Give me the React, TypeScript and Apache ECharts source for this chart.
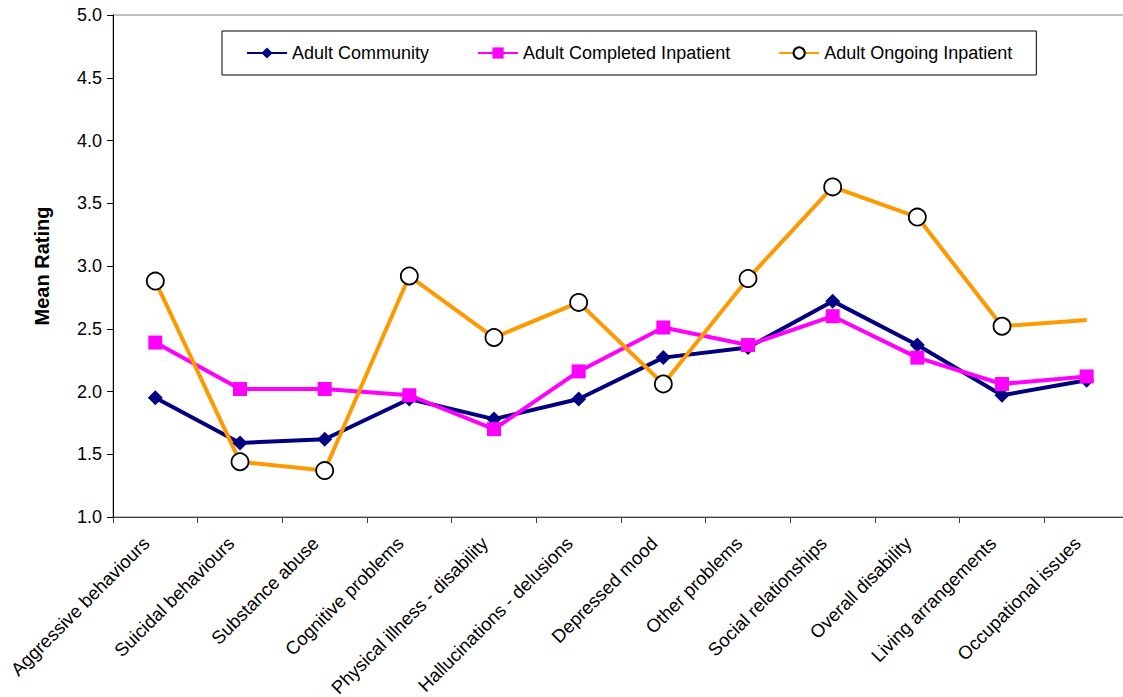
import React, { useEffect, useRef } from "react";
import * as echarts from "echarts";

const categories = [
  "Aggressive behaviours",
  "Suicidal behaviours",
  "Substance abuse",
  "Cognitive problems",
  "Physical illness - disability",
  "Hallucinations - delusions",
  "Depressed mood",
  "Other problems",
  "Social relationships",
  "Overall disability",
  "Living arrangements",
  "Occupational issues",
];

const adultCommunity = [1.95, 1.59, 1.62, 1.94, 1.78, 1.94, 2.27, 2.35, 2.72, 2.37, 1.97, 2.09];
const adultCompleted = [2.39, 2.02, 2.02, 1.97, 1.70, 2.16, 2.51, 2.37, 2.60, 2.27, 2.06, 2.12];
const adultOngoing = [2.88, 1.44, 1.37, 2.92, 2.43, 2.71, 2.06, 2.90, 3.63, 3.39, 2.52, 2.57];
// the last ongoing point has no marker in the reference
const ongoingMarkerShown = [true, true, true, true, true, true, true, true, true, true, true, false];

const seriesNames = ["Adult Community", "Adult Completed Inpatient", "Adult Ongoing Inpatient"];
const yTicks = { min: 1, max: 5, interval: 0.5 };

const FONT = "'Liberation Sans', Arial, sans-serif";

export default function App() {
  const ref = useRef<HTMLDivElement>(null);

  useEffect(() => {
    if (!ref.current) return;
    const chart = echarts.init(ref.current, null, { renderer: "svg" });
    chart.setOption({
      animation: false,
      backgroundColor: "#ffffff",
      textStyle: { fontFamily: FONT },
      grid: {
        left: 113,
        top: 15,
        width: 1016,
        height: 502,
        containLabel: false,
        outerBoundsMode: "none",
        show: true,
        borderColor: "#808080",
        borderWidth: 1,
        backgroundColor: "transparent",
      },
      legend: {
        left: 222,
        top: 31,
        padding: [13, 24, 13, 24],
        itemGap: 48,
        itemWidth: 40,
        itemHeight: 14,
        backgroundColor: "#ffffff",
        borderColor: "#000000",
        borderWidth: 1,
        textStyle: { fontFamily: FONT, fontSize: 18, color: "#000000" },
        data: seriesNames,
      },
      xAxis: {
        type: "category",
        data: categories,
        boundaryGap: true,
        axisLine: { lineStyle: { color: "#404040", width: 1 } },
        axisTick: { show: true, length: 6, alignWithLabel: false, lineStyle: { color: "#404040" } },
        axisLabel: {
          rotate: 45,
          interval: 0,
          margin: 14,
          padding: [0, 13, 0, 0],
          fontFamily: FONT,
          fontSize: 18.5,
          color: "#000000",
        },
        splitLine: { show: false },
      },
      yAxis: {
        type: "value",
        min: yTicks.min,
        max: yTicks.max,
        interval: yTicks.interval,
        name: "Mean Rating",
        nameLocation: "middle",
        nameGap: 61,
        nameRotate: 90,
        nameTextStyle: { fontFamily: FONT, fontSize: 20, fontWeight: "bold", color: "#000000" },
        axisLine: { show: true, lineStyle: { color: "#000000", width: 1 } },
        axisTick: { show: true, length: 6, lineStyle: { color: "#000000" } },
        axisLabel: {
          fontFamily: FONT,
          fontSize: 18,
          color: "#000000",
          margin: 11,
          formatter: (v: number) => v.toFixed(1),
        },
        splitLine: { show: false },
      },
      series: [
        {
          name: seriesNames[0],
          type: "line",
          data: adultCommunity,
          color: "#000080",
          lineStyle: { color: "#000080", width: 4 },
          symbol: "diamond",
          symbolSize: 15,
          itemStyle: { color: "#000080" },
        },
        {
          name: seriesNames[1],
          type: "line",
          data: adultCompleted,
          color: "#FF00FF",
          lineStyle: { color: "#FF00FF", width: 4 },
          symbol: "rect",
          symbolSize: 14,
          itemStyle: { color: "#FF00FF" },
        },
        {
          name: seriesNames[2],
          type: "line",
          data: adultOngoing.map((v, i) =>
            ongoingMarkerShown[i] ? v : { value: v, symbol: "none" }
          ),
          color: "#FF9900",
          lineStyle: { color: "#FF9900", width: 4 },
          symbol: "circle",
          symbolSize: 17,
          showAllSymbol: true,
          itemStyle: { color: "#ffffff", borderColor: "#000000", borderWidth: 1.8 },
        },
      ],
    });
    return () => chart.dispose();
  }, []);

  return (
    <div
      ref={ref}
      style={{ position: "fixed", left: 0, top: 0, width: 1123, height: 697, background: "#fff" }}
    />
  );
}
